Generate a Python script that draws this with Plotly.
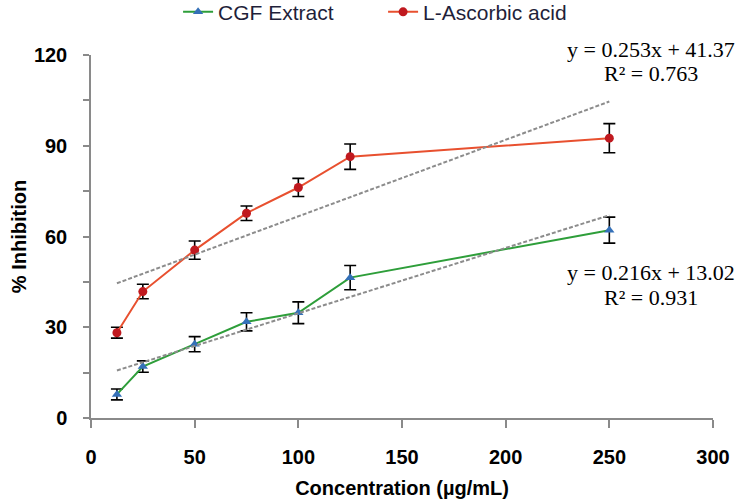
import plotly.graph_objects as go

# ---- data ----
concentration = [12.5, 25, 50, 75, 100, 125, 250]
cgf_extract = [7.8, 17.0, 24.4, 31.8, 34.8, 46.4, 62.1]
cgf_err = [1.8, 1.9, 2.5, 3.0, 3.6, 4.0, 4.3]
ascorbic = [28.2, 41.8, 55.5, 67.7, 76.2, 86.4, 92.5]
ascorbic_err = [1.8, 2.4, 3.0, 2.4, 3.0, 4.2, 4.8]

asc_slope, asc_intercept, asc_r2 = 0.253, 41.37, 0.763
cgf_slope, cgf_intercept, cgf_r2 = 0.216, 13.02, 0.931
trend_x = [12.5, 250]

x_ticks = [0, 50, 100, 150, 200, 250, 300]
y_ticks = [0, 30, 60, 90, 120]

fig = go.Figure()

fig.add_trace(go.Scatter(
    x=concentration, y=cgf_extract, name="CGF Extract", mode="lines+markers",
    line=dict(color="#2E9E3A", width=2),
    marker=dict(symbol="triangle-up", color="#3470B8", size=9),
    error_y=dict(type="data", array=cgf_err, color="black", thickness=1.6, width=6),
))
fig.add_trace(go.Scatter(
    x=concentration, y=ascorbic, name="L-Ascorbic acid", mode="lines+markers",
    line=dict(color="#E8502F", width=2),
    marker=dict(symbol="circle", color="#C0191F", size=9),
    error_y=dict(type="data", array=ascorbic_err, color="black", thickness=1.6, width=6),
))

for slope, intercept in [(asc_slope, asc_intercept), (cgf_slope, cgf_intercept)]:
    fig.add_trace(go.Scatter(
        x=trend_x, y=[slope * v + intercept for v in trend_x], mode="lines",
        line=dict(color="#8C8C8C", width=2, dash="4px,2px"), showlegend=False,
        hoverinfo="skip",
    ))

tick_font = dict(family="Liberation Sans, Arial", size=20, color="black", weight="bold")
axis_col = "#8A8A8A"

fig.update_layout(
    width=750, height=499,
    margin=dict(l=91, r=37, t=55, b=81, autoexpand=False),
    plot_bgcolor="white", paper_bgcolor="white",
    showlegend=True,
    legend=dict(orientation="h", x=0.14, xanchor="left", y=1.118, yanchor="middle",
                font=dict(family="Liberation Sans, Arial", size=21, color="#1F1F3A"),
                entrywidth=160, bgcolor="rgba(0,0,0,0)"),
    xaxis=dict(range=[0, 300], tickvals=x_ticks, showgrid=False, zeroline=False,
               showline=True, linecolor=axis_col, linewidth=1.5,
               ticks="outside", ticklen=8, tickcolor=axis_col, tickwidth=1.5,
               tickfont=tick_font, ticklabelstandoff=12,
               title=dict(text="Concentration (µg/mL)", standoff=45,
                          font=dict(family="Liberation Sans, Arial", size=20, color="black", weight="bold"))),
    yaxis=dict(range=[0, 120], tickvals=y_ticks, showgrid=False, zeroline=False,
               showline=True, linecolor=axis_col, linewidth=1.5,
               ticks="outside", ticklen=6, tickcolor=axis_col, tickwidth=1.5,
               minor=dict(dtick=15, ticks="outside", ticklen=6, tickcolor=axis_col, tickwidth=1.5),
               tickfont=tick_font, ticklabelstandoff=12,
               title=dict(text="% Inhibition", standoff=2,
                          font=dict(family="Liberation Sans, Arial", size=20, color="black", weight="bold"))),
)

ann_font = dict(family="Liberation Serif, Times New Roman", size=22, color="black")
labels = [
    (f"y = {asc_slope}x + {asc_intercept}", 1.014),
    (f"R² = {asc_r2}", 0.950),
    (f"y = {cgf_slope}x + {cgf_intercept}", 0.402),
    (f"R² = {cgf_r2}", 0.333),
]
for text, yy in labels:
    fig.add_annotation(text=text, xref="paper", yref="paper", x=0.900, y=yy,
                       xanchor="center", yanchor="middle", showarrow=False, font=ann_font)

fig.write_html("out.html", config={"displayModeBar": False},
               post_script="document.body.style.margin='0';document.body.style.overflow='hidden';")
